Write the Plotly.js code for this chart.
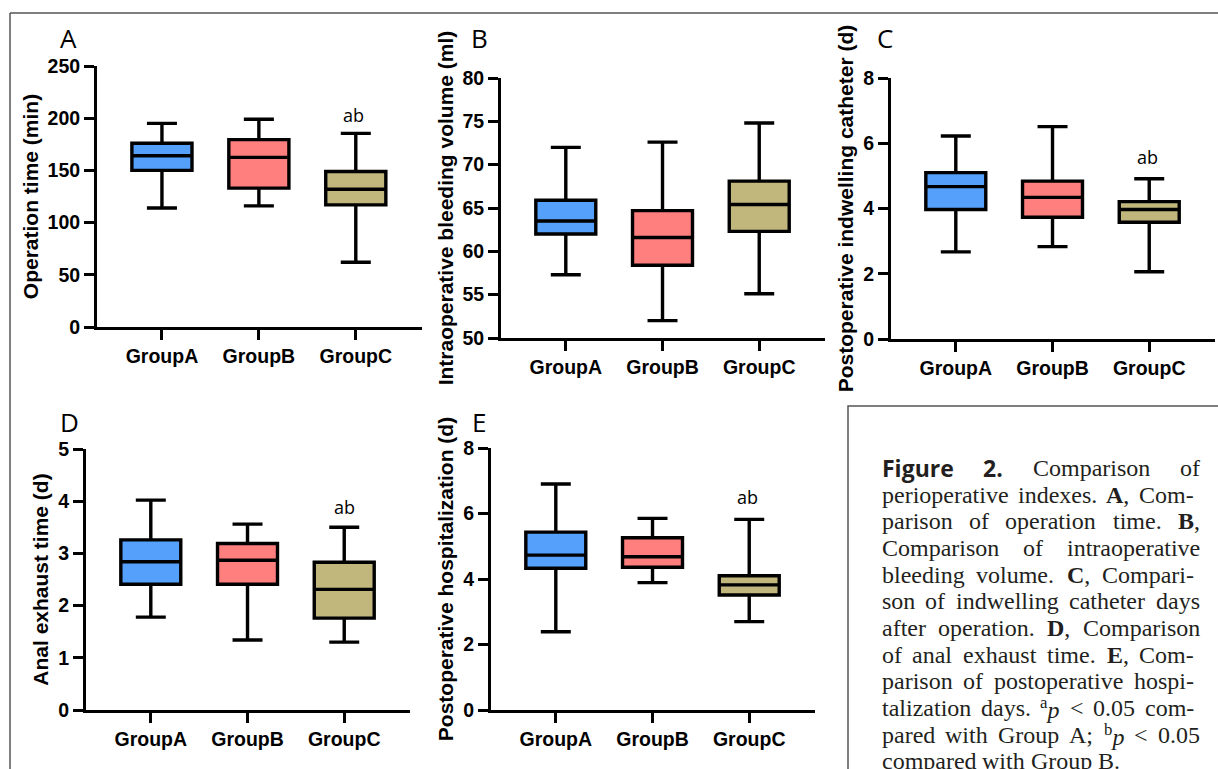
<!DOCTYPE html>
<html><head><meta charset="utf-8">
<script src="https://cdn.plot.ly/plotly-3.0.1.min.js"></script>
<style>html,body{margin:0;padding:0;background:#fff}#chart{width:1218px;height:769px}</style>
</head><body><div id="chart"></div>
<script>
// ---------- data ----------
const groups = ['GroupA', 'GroupB', 'GroupC'];

// A: Operation time (min)
const opLower  = [114, 116, 62];
const opQ1     = [150, 133, 117];
const opMedian = [164, 162.5, 132];
const opQ3     = [176, 179.5, 149];
const opUpper  = [195, 199, 185.5];

// B: Intraoperative bleeding volume (ml)
const blLower  = [57.3, 52.0, 55.1];
const blQ1     = [62.0, 58.4, 62.3];
const blMedian = [63.5, 61.6, 65.4];
const blQ3     = [65.9, 64.7, 68.1];
const blUpper  = [72.0, 72.6, 74.8];

// C: Postoperative indwelling catheter (d)
const caLower  = [2.67, 2.83, 2.06];
const caQ1     = [3.97, 3.73, 3.58];
const caMedian = [4.67, 4.34, 3.97];
const caQ3     = [5.10, 4.84, 4.21];
const caUpper  = [6.22, 6.51, 4.91];

// D: Anal exhaust time (d)
const anLower  = [1.78, 1.34, 1.30];
const anQ1     = [2.41, 2.41, 1.76];
const anMedian = [2.84, 2.87, 2.31];
const anQ3     = [3.26, 3.19, 2.83];
const anUpper  = [4.02, 3.56, 3.50];

// E: Postoperative hospitalization (d)
const hoLower  = [2.39, 3.89, 2.70];
const hoQ1     = [4.33, 4.36, 3.51];
const hoMedian = [4.73, 4.68, 3.82];
const hoQ3     = [5.43, 5.26, 4.10];
const hoUpper  = [6.90, 5.85, 5.82];

const panelLetters = ['A', 'B', 'C', 'D', 'E'];
const yTitles = ['Operation time (min)', 'Intraoperative bleeding volume (ml)',
  'Postoperative indwelling catheter (d)', 'Anal exhaust time (d)', 'Postoperative hospitalization (d)'];
const yRanges = [[0, 250], [50, 80], [0, 8], [0, 5], [0, 8]];
const yDticks = [50, 5, 2, 1, 2];
const sigLabel = 'ab';

// caption words per line (justified)
const captionLines = [
  [{t: 'Figure', sans: true}, {t: '2.', sans: true}, 'Comparison', 'of'],
  ['perioperative', 'indexes.', '<b>A</b>,', 'Com-'],
  ['parison', 'of', 'operation', 'time.', '<b>B</b>,'],
  ['Comparison', 'of', 'intraoperative'],
  ['bleeding', 'volume.', '<b>C</b>,', 'Compari-'],
  ['son', 'of', 'indwelling', 'catheter', 'days'],
  ['after', 'operation.', '<b>D</b>,', 'Comparison'],
  ['of', 'anal', 'exhaust', 'time.', '<b>E</b>,', 'Com-'],
  ['parison', 'of', 'postoperative', 'hospi-'],
  ['talization', 'days.', '<sup>a</sup><i>p</i>', '&lt;', '0.05', 'com-'],
  ['pared', 'with', 'Group', 'A;', '<sup>b</sup><i>p</i>', '&lt;', '0.05'],
  ['compared', 'with', 'Group', 'B.']
];

// ---------- styling / layout ----------
const W = 1218, H = 769;
const px = v => v / W;
const py = v => 1 - v / H;
const fills = ['#55a0fb', '#ff7f7f', '#c1b77d'];

const panels = [
  {lo: opLower, q1: opQ1, med: opMedian, q3: opQ3, up: opUpper, x0: 97, x1: 421.7, yt: 66, yb: 327},
  {lo: blLower, q1: blQ1, med: blMedian, q3: blQ3, up: blUpper, x0: 501, x1: 825, yt: 78, yb: 338},
  {lo: caLower, q1: caQ1, med: caMedian, q3: caQ3, up: caUpper, x0: 891, x1: 1215, yt: 78, yb: 339},
  {lo: anLower, q1: anQ1, med: anMedian, q3: anQ3, up: anUpper, x0: 86, x1: 410, yt: 449, yb: 710},
  {lo: hoLower, q1: hoQ1, med: hoMedian, q3: hoQ3, up: hoUpper, x0: 491, x1: 815, yt: 448, yb: 710}
];
const letterPos = [[68, 38], [479, 38], [885, 38], [69, 422], [479, 422]];
const sigPos = {0: [353, 115], 2: [1147, 157], 3: [344, 507], 4: [747, 497]};

const traces = [];
const layout = {
  width: W, height: H, margin: {l: 0, r: 0, t: 0, b: 0},
  paper_bgcolor: '#fff', plot_bgcolor: 'rgba(0,0,0,0)',
  showlegend: false, boxmode: 'overlay',
  annotations: [], shapes: []
};
const tickFont = {family: 'Arial, "Liberation Sans", sans-serif', size: 19.5, color: '#000', weight: 700};

panels.forEach((p, i) => {
  const n = i === 0 ? '' : String(i + 1);
  groups.forEach((g, j) => {
    traces.push({
      type: 'box', x: [g], q1: [p.q1[j]], median: [p.med[j]], q3: [p.q3[j]],
      lowerfence: [p.lo[j]], upperfence: [p.up[j]],
      xaxis: 'x' + n, yaxis: 'y' + n, boxpoints: false,
      fillcolor: fills[j], line: {color: '#000', width: 3.4},
      width: 0.62, whiskerwidth: 0.5, hoverinfo: 'skip'
    });
  });
  layout['xaxis' + n] = {
    domain: [px(p.x0), px(p.x1)], anchor: 'y' + n, type: 'category',
    categoryorder: 'array', categoryarray: groups, range: [-0.67, 2.68],
    showline: true, linewidth: 3, linecolor: '#000', ticks: 'outside', ticklen: 10,
    tickwidth: 3, tickcolor: '#000', showgrid: false, zeroline: false,
    tickfont: tickFont, fixedrange: true
  };
  layout['yaxis' + n] = {
    domain: [py(p.yb), py(p.yt)], anchor: 'x' + n, range: yRanges[i], dtick: yDticks[i],
    tick0: 0, showline: true, linewidth: 3, linecolor: '#000', ticks: 'outside', ticklen: 10,
    tickwidth: 3, tickcolor: '#000', showgrid: false, zeroline: false,
    tickfont: tickFont, fixedrange: true,
    title: {text: yTitles[i], standoff: 4,
      font: {family: 'Arial, "Liberation Sans", sans-serif', size: 21, color: '#000', weight: 700}}
  };
  layout.annotations.push({
    xref: 'paper', yref: 'paper', x: px(letterPos[i][0]), y: py(letterPos[i][1]),
    xanchor: 'center', yanchor: 'middle', showarrow: false, text: panelLetters[i],
    font: {family: '"Open Sans", "Noto Sans", sans-serif', size: 26, color: '#000'}
  });
  if (sigPos[i]) {
    layout.annotations.push({
      xref: 'paper', yref: 'paper', x: px(sigPos[i][0]), y: py(sigPos[i][1]),
      xanchor: 'center', yanchor: 'middle', showarrow: false, text: sigLabel,
      font: {family: '"Open Sans", "Noto Sans", sans-serif', size: 18, color: '#000'}
    });
  }
});

// frame lines
const frameColor = '#555';
layout.shapes.push({type: 'line', xref: 'paper', yref: 'paper', x0: px(10), x1: px(1220), y0: py(13), y1: py(13), line: {color: frameColor, width: 1.5}});
layout.shapes.push({type: 'line', xref: 'paper', yref: 'paper', x0: px(10), x1: px(10), y0: py(13), y1: py(775), line: {color: frameColor, width: 1.5}});
layout.shapes.push({type: 'rect', xref: 'paper', yref: 'paper', x0: px(848), x1: px(1230), y0: py(406), y1: py(780), line: {color: frameColor, width: 1.5}});

// caption: justified words measured with canvas
const cv = document.createElement('canvas').getContext('2d');
const SERIF = '"Liberation Serif", "Times New Roman", serif';
const SANS = '"Open Sans", "Noto Sans", sans-serif';
const CAP_SIZE = 24, SANS_SIZE = 23;
function measure(tok) {
  if (typeof tok === 'object') {
    cv.font = `bold ${SANS_SIZE}px ${SANS}`;
    return cv.measureText(tok.t).width;
  }
  let s = tok.replace('&lt;', '<');
  let w = 0, b = false, it = false, sup = false;
  const parts = s.split(/(<\/?(?:b|i|sup)>)/);
  parts.forEach(part => {
    if (part === '<b>') b = true; else if (part === '</b>') b = false;
    else if (part === '<i>') it = true; else if (part === '</i>') it = false;
    else if (part === '<sup>') sup = true; else if (part === '</sup>') sup = false;
    else if (part) {
      cv.font = `${it ? 'italic ' : ''}${b ? 'bold ' : ''}${sup ? CAP_SIZE * 0.7 : CAP_SIZE}px ${SERIF}`;
      w += cv.measureText(part).width;
    }
  });
  return w;
}
const capLeft = 880.5, capTop = 468, capStep = 26.65;
captionLines.forEach((words, li) => {
  const widths = words.map(measure);
  const last = words[words.length - 1];
  const lastStr = typeof last === 'object' ? last.t : last;
  const right = lastStr.endsWith('-') ? 1193 : 1199;
  const total = widths.reduce((a, b) => a + b, 0);
  const isLast = li === captionLines.length - 1;
  cv.font = `${CAP_SIZE}px ${SERIF}`;
  const gap = isLast ? cv.measureText(' ').width : (right - capLeft - total) / (words.length - 1);
  let x = capLeft;
  words.forEach((w, k) => {
    const sansTok = typeof w === 'object';
    layout.annotations.push({
      xref: 'paper', yref: 'paper', x: px(x), y: py(capTop + li * capStep),
      xanchor: 'left', yanchor: 'middle', showarrow: false, borderpad: 0,
      text: sansTok ? '<b>' + w.t + '</b>' : w,
      font: {family: sansTok ? SANS : SERIF, size: sansTok ? SANS_SIZE : CAP_SIZE, color: '#231f20'}
    });
    x += widths[k] + gap;
  });
});

Plotly.newPlot('chart', traces, layout, {staticPlot: true, displayModeBar: false});
</script>
</body></html>
